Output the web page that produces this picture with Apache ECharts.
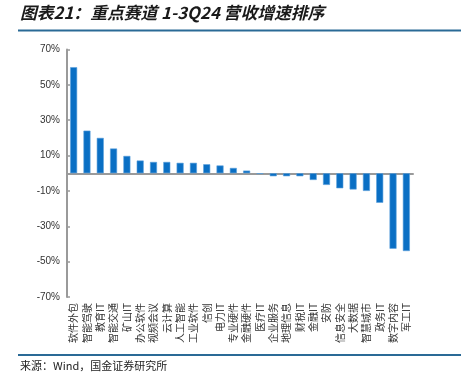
<!DOCTYPE html>
<html><head><meta charset="utf-8">
<script src="https://cdn.jsdelivr.net/npm/echarts@6/dist/echarts.min.js"></script>
<style>html,body{margin:0;padding:0;background:#fff;}#c{width:461px;height:380px;}</style>
</head><body><div id="c"></div>
<script>
const categories = ['软件外包','智能驾驶','教育IT','智能交通','矿山IT','办公软件','视频会议','云计算','人工智能','工业软件','信创','电力IT','专业硬件','金融硬件','医疗IT','企业服务','地理信息','财税IT','金融IT','安防','信息安全','大数据','智慧城市','政务IT','数字内容','军工IT'];
const growth = [60, 24.1, 20.0, 14.0, 9.8, 7.2, 6.4, 6.4, 5.9, 5.9, 5.1, 4.4, 3.0, 1.5, -0.4, -1.7, -1.7, -1.7, -3.8, -6.6, -8.5, -9.2, -10.0, -16.7, -42.7, -44.0];
const yTicks = [-70, -50, -30, -10, 10, 30, 50, 70];
const titleText = '图表21：重点赛道 1-3Q24 营收增速排序';
const sourceText = '来源：Wind，国金证券研究所';

const chart = echarts.init(document.getElementById('c'), null, {renderer:'canvas'});
chart.setOption({
  animation: false,
  backgroundColor: '#fff',
  grid: {left: 67, right: 48, top: 49.5, bottom: 83, containLabel: false},
  xAxis: {
    type: 'category', data: categories,
    axisLine: {onZero: true, lineStyle: {color: '#9a9a9a', width: 2}},
    axisTick: {show: false},
    axisLabel: {rotate: 90, interval: 0, fontSize: 10, color: '#333', margin: 6,
      fontFamily: 'Noto Sans CJK SC', verticalAlign: 'middle',
      formatter: v => v}
  },
  yAxis: {
    type: 'value', min: yTicks[0], max: yTicks[yTicks.length-1], interval: 20,
    axisLine: {show: true, lineStyle: {color: '#9a9a9a', width: 2}},
    axisTick: {show: true, inside: true, length: 3, lineStyle: {color: '#9a9a9a', width: 1.5}},
    splitLine: {show: false},
    axisLabel: {fontSize: 10, color: '#333', margin: 7, fontFamily: 'Liberation Sans, Arial',
      formatter: v => v + '%'}
  },
  series: [{
    type: 'bar', data: growth, barWidth: 7,
    itemStyle: {color: '#0a6fc4', borderColor: '#5aa0dc', borderWidth: 0.6}
  }],
  graphic: [
    {type: 'text', left: 20, top: 4, style: {text: titleText, fontSize: 16.8, fontWeight: 'bold', fontStyle: 'italic', fill: '#1a1a1a', fontFamily: 'Noto Sans CJK SC'}},
    {type: 'rect', shape: {x: 18, y: 29.5, width: 443, height: 2}, style: {fill: '#2a6a96'}},
    {type: 'rect', shape: {x: 18, y: 354, width: 443, height: 2}, style: {fill: '#2a6a96'}},
    {type: 'text', left: 20, top: 360, style: {text: sourceText, fontSize: 11, fill: '#222', fontFamily: 'Noto Sans CJK SC'}}
  ]
});
</script>
</body></html>
